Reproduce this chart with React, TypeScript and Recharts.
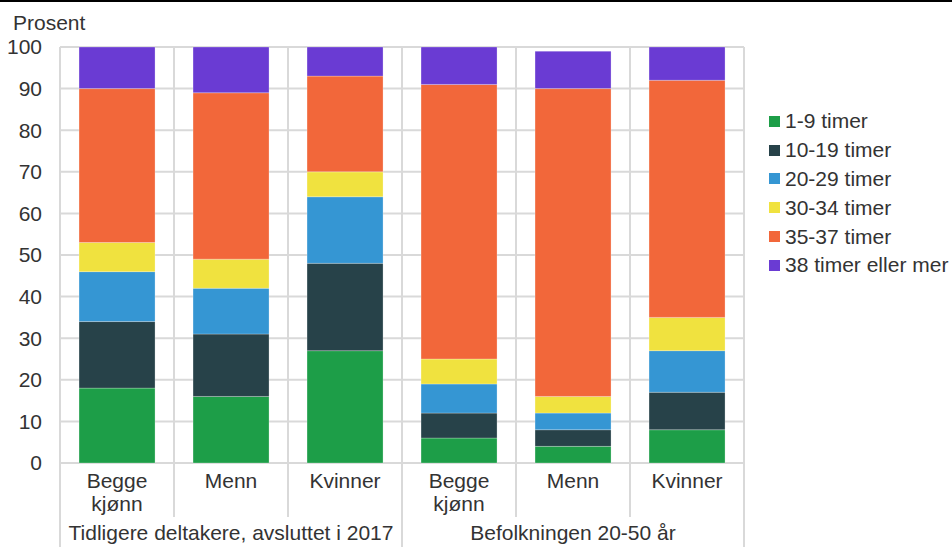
import { Bar, BarChart, CartesianGrid, Label, Legend, XAxis, YAxis } from "recharts";

const categories = ["Begge kjønn", "Menn", "Kvinner", "Begge kjønn", "Menn", "Kvinner"];
const groups = ["Tidligere deltakere, avsluttet i 2017", "Befolkningen 20-50 år"];
const categoryGroup = [0, 0, 0, 1, 1, 1];

const seriesNames = ["1-9 timer", "10-19 timer", "20-29 timer", "30-34 timer", "35-37 timer", "38 timer eller mer"];
const seriesColors = ["#1d9e48", "#274249", "#3596d3", "#f0e23f", "#f2673a", "#6a3bd3"];

const t1_9 = [18, 16, 27, 6, 4, 8];
const t10_19 = [16, 15, 21, 6, 4, 9];
const t20_29 = [12, 11, 16, 7, 4, 10];
const t30_34 = [7, 7, 6, 6, 4, 8];
const t35_37 = [37, 40, 23, 66, 74, 57];
const t38 = [10, 11, 7, 9, 9, 8];
const seriesValues = [t1_9, t10_19, t20_29, t30_34, t35_37, t38];

const yTicks = [0, 10, 20, 30, 40, 50, 60, 70, 80, 90, 100];

const W = 952;
const H = 547;
const MARGIN = { top: 47, right: 208, bottom: 0, left: 0 };
const Y_W = 60;
const X_H = 84;
const BAND = (W - MARGIN.left - MARGIN.right - Y_W) / categories.length;
const GRID = "#d9d9d9";
const TEXT = "#333333";
const FONT = "'Liberation Sans', Arial, sans-serif";
const FS = 21;

const data = categories.map((c, i) => {
	const row: any = { id: String(i), label: c, group: groups[categoryGroup[i]] };
	seriesNames.forEach((n, s) => {
		row[n] = seriesValues[s][i];
	});
	return row;
});

function CategoryTick(props: any) {
	const { x, y, index, payload } = props;
	const half = payload && payload.offset > 0 ? payload.offset : BAND / 2;
	const lines = String(data[index].label).split(" ");
	const first = index === 0 || categoryGroup[index] !== categoryGroup[index - 1];
	const isMid = index % 3 === 1;
	const last = index === categories.length - 1;
	return (
		<g>
			<line x1={x - half} x2={x - half} y1={y} y2={first ? y + X_H : y + 54} stroke={GRID} strokeWidth={2} />
			{last && <line x1={x + half} x2={x + half} y1={y} y2={y + X_H} stroke={GRID} strokeWidth={2} />}
			{lines.map((l, k) => (
				<text key={k} x={x} y={y + 25 + k * 23} textAnchor="middle" fill={TEXT} fontSize={FS} fontFamily={FONT}>
					{l}
				</text>
			))}
			{isMid && (
				<text x={x} y={y + 77} textAnchor="middle" fill={TEXT} fontSize={FS} fontFamily={FONT}>
					{data[index].group}
				</text>
			)}
		</g>
	);
}

function LegendList({ payload }: any) {
	return (
		<div style={{ fontFamily: FONT, fontSize: FS, color: TEXT }}>
			{(payload || []).map((p: any) => (
				<div key={p.value} style={{ display: "flex", alignItems: "center", height: 28.8, whiteSpace: "nowrap" }}>
					<span style={{ width: 11, height: 11, background: p.color, display: "inline-block", marginRight: 5 }} />
					<span>{p.value}</span>
				</div>
			))}
		</div>
	);
}

export default function App() {
	return (
		<div style={{ position: "fixed", left: 0, top: 0, width: W, height: H, background: "#fff" }}>
			<div style={{ position: "absolute", left: 0, top: 0, width: W, height: 2, background: "#000", zIndex: 2 }} />
			<BarChart width={W} height={H} data={data} margin={MARGIN} barCategoryGap="16.7%">
				<CartesianGrid
					stroke={GRID}
					strokeWidth={2}
					verticalCoordinatesGenerator={({ offset }: any) =>
						categories.map((_, i) => offset.left + (i * offset.width) / categories.length).concat(offset.left + offset.width)
					}
				/>
				<YAxis
					domain={[0, 100]}
					ticks={yTicks}
					width={Y_W}
					axisLine={false}
					tickLine={false}
					tickSize={0}
					tickMargin={18}
					tick={{ fill: TEXT, fontSize: FS, fontFamily: FONT }}
					interval={0}
				>
					<Label
						content={({ viewBox }: any) => (
							<text x={viewBox.x + 13} y={viewBox.y - 17} fill={TEXT} fontSize={FS} fontFamily={FONT}>
								Prosent
							</text>
						)}
					/>
				</YAxis>
				<XAxis dataKey="id" height={X_H} axisLine={false} tickLine={false} tickSize={0} tickMargin={0} interval={0} tick={<CategoryTick />} />
				{seriesNames.map((n, s) => (
					<Bar
						key={n}
						dataKey={n}
						stackId="a"
						fill={seriesColors[s]}
						stroke="rgba(255,255,255,0.35)"
						strokeWidth={0.75}
						isAnimationActive={false}
					/>
				))}
				<Legend
					layout="vertical"
					align="center"
					verticalAlign="middle"
					content={<LegendList />}
					wrapperStyle={{ left: 769, top: 107, width: 183 }}
				/>
			</BarChart>
		</div>
	);
}
